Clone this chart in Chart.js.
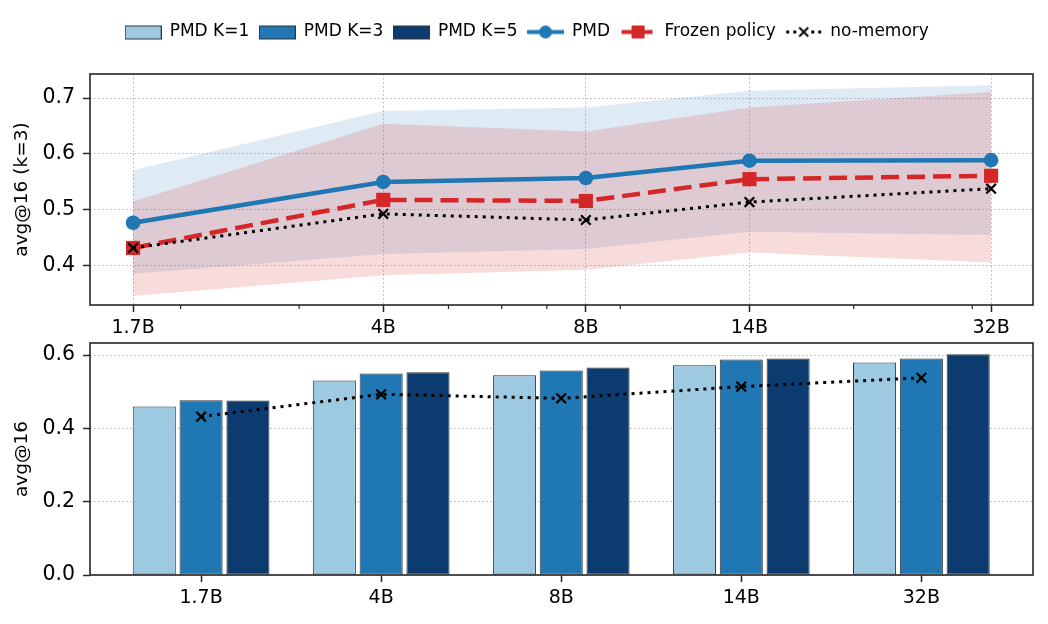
<!DOCTYPE html>
<html>
<head>
<meta charset="utf-8">
<script src="https://cdn.jsdelivr.net/npm/chart.js@4.4.0/dist/chart.umd.min.js"></script>
<style>
  body { margin: 0; background: #fff; }
  #wrap { position: relative; width: 1048px; height: 624px; }
  #top { position: absolute; left: 0; top: 0; }
  #bottom { position: absolute; left: 0; top: 338px; }
</style>
</head>
<body>
<div id="wrap">
  <canvas id="top" width="1048" height="338"></canvas>
  <canvas id="bottom" width="1048" height="286"></canvas>
</div>
<script>
// model sizes (billions) and their labels
const sizes = [1.7, 4, 8, 14, 32];
const sizeLabels = ['1.7B', '4B', '8B', '14B', '32B'];
const minorSizes = [2, 3, 5, 6, 7, 9, 20, 30];

// top panel: avg@16 (k=3)
const pmd = [0.477, 0.550, 0.557, 0.588, 0.589];
const pmdLow = [0.386, 0.421, 0.430, 0.461, 0.455];
const pmdHigh = [0.571, 0.677, 0.683, 0.713, 0.723];
const frozen = [0.432, 0.518, 0.516, 0.555, 0.561];
const frozenLow = [0.346, 0.383, 0.393, 0.424, 0.406];
const frozenHigh = [0.515, 0.654, 0.640, 0.683, 0.711];
const noMemory = [0.432, 0.493, 0.482, 0.514, 0.538];

// bottom panel: avg@16 per K
const pmdK1 = [0.460, 0.531, 0.545, 0.572, 0.580];
const pmdK3 = [0.477, 0.550, 0.558, 0.588, 0.591];
const pmdK5 = [0.476, 0.553, 0.566, 0.591, 0.602];

const topYTicks = [0.4, 0.5, 0.6, 0.7];
const bottomYTicks = [0, 0.2, 0.4, 0.6];

const BLUE = '#1f77b4', RED = '#d62728', INK = '#262626';
const K1 = '#9ecae1', K3 = '#1f77b4', K5 = '#0b3b6f';
const FONT = 'DejaVu Sans';

Chart.defaults.font.family = FONT;
Chart.defaults.color = '#000';
Chart.defaults.animation = false;

const logPts = arr => sizes.map((s, i) => ({ x: s, y: arr[i] }));
const idxPts = arr => arr.map((v, i) => ({ x: i, y: v }));

const gridStyle = { color: '#b5b5b5', lineWidth: 1, offset: false,
  tickColor: INK, tickWidth: 1.5, tickLength: 7, tickBorderDash: [] };
const borderStyle = { display: false, dash: [1.5, 2.5] };

// frame round the plot area, like matplotlib spines
const frame = {
  id: 'frame',
  afterDraw(chart) {
    const { ctx, chartArea: a } = chart;
    ctx.save();
    ctx.strokeStyle = INK;
    ctx.lineWidth = 1.6;
    ctx.strokeRect(a.left, a.top, a.right - a.left, a.bottom - a.top);
    ctx.restore();
  }
};

// small unlabelled ticks on the log axis
const minorTicks = {
  id: 'minorTicks',
  afterDraw(chart) {
    const x = chart.scales.x, ctx = chart.ctx, y0 = chart.chartArea.bottom;
    ctx.save();
    ctx.strokeStyle = INK;
    ctx.lineWidth = 1.2;
    minorSizes.forEach(v => {
      const px = x.getPixelForValue(v);
      ctx.beginPath();
      ctx.moveTo(px, y0);
      ctx.lineTo(px, y0 + 4);
      ctx.stroke();
    });
    ctx.restore();
  }
};

// legend spacing: move it right and leave room under it
const legendFit = {
  id: 'legendFit',
  beforeInit(chart) {
    const fit = chart.legend.fit;
    chart.legend.fit = function () {
      fit.bind(chart.legend)();
      this.height = 60.5;
    };
  },
  afterLayout(chart) {
    chart.legend.left += 10.5;
    chart.legend.right += 10.5;
  }
};

function icon(draw) {
  const c = document.createElement('canvas');
  c.width = 37; c.height = 17;
  draw(c.getContext('2d'));
  return c;
}
const boxIcon = col => icon(g => {
  g.fillStyle = col; g.fillRect(0.5, 2.5, 36, 13);
  g.strokeStyle = '#333'; g.lineWidth = 1; g.strokeRect(0.5, 2.5, 36, 13);
});
const legendItems = [
  { text: 'PMD K=1', pointStyle: boxIcon(K1) },
  { text: 'PMD K=3', pointStyle: boxIcon(K3) },
  { text: 'PMD K=5', pointStyle: boxIcon(K5) },
  { text: 'PMD', pointStyle: icon(g => {
      g.strokeStyle = BLUE; g.lineWidth = 4; g.beginPath(); g.moveTo(0, 8.5); g.lineTo(37, 8.5); g.stroke();
      g.fillStyle = BLUE; g.beginPath(); g.arc(18.5, 8.5, 6.5, 0, Math.PI * 2); g.fill();
    }) },
  { text: 'Frozen policy', pointStyle: icon(g => {
      g.strokeStyle = RED; g.lineWidth = 4; g.setLineDash([13, 5]); g.lineDashOffset = -2;
      g.beginPath(); g.moveTo(0, 8.5); g.lineTo(37, 8.5); g.stroke();
      g.fillStyle = RED; g.fillRect(12, 2, 13, 13);
    }) },
  { text: 'no-memory', pointStyle: icon(g => {
      g.fillStyle = '#000';
      [1, 8, 26, 33].forEach(x => g.fillRect(x, 7, 3, 3));
      g.strokeStyle = '#000'; g.lineWidth = 2; g.beginPath();
      g.moveTo(14, 4); g.lineTo(23, 13); g.moveTo(23, 4); g.lineTo(14, 13); g.stroke();
    }) }
].map(it => Object.assign({ fontColor: '#000', lineWidth: 0, strokeStyle: 'transparent',
  fillStyle: 'transparent', hidden: false }, it));

new Chart(document.getElementById('top'), {
  type: 'line',
  data: {
    datasets: [
      { label: 'no-memory', data: logPts(noMemory), borderColor: '#000', borderWidth: 3,
        borderDash: [3, 5], pointStyle: 'crossRot', pointRadius: 6.8, pointBorderWidth: 2.2,
        pointBorderColor: '#000', pointBackgroundColor: '#000', fill: false },
      { label: 'Frozen policy', data: logPts(frozen), borderColor: RED, borderWidth: 4.5,
        borderDash: [18, 8], pointStyle: 'rect', pointRadius: 10, pointBorderWidth: 0,
        pointBackgroundColor: RED, fill: false },
      { label: 'PMD', data: logPts(pmd), borderColor: BLUE, borderWidth: 4.5,
        pointStyle: 'circle', pointRadius: 7.3, pointBorderWidth: 0,
        pointBackgroundColor: BLUE, fill: false },
      { label: 'frozen low', data: logPts(frozenLow), borderColor: 'transparent', borderWidth: 0,
        pointRadius: 0, fill: false },
      { label: 'frozen high', data: logPts(frozenHigh), borderColor: 'transparent', borderWidth: 0,
        pointRadius: 0, fill: '-1', backgroundColor: 'rgba(214,39,40,0.17)' },
      { label: 'pmd low', data: logPts(pmdLow), borderColor: 'transparent', borderWidth: 0,
        pointRadius: 0, fill: false },
      { label: 'pmd high', data: logPts(pmdHigh), borderColor: 'transparent', borderWidth: 0,
        pointRadius: 0, fill: '-1', backgroundColor: 'rgba(31,119,180,0.15)' }
    ]
  },
  options: {
    responsive: false,
    events: [],
    layout: { autoPadding: false, padding: { top: 13.5, right: 15, left: 0, bottom: 0 } },
    elements: { line: { tension: 0 } },
    plugins: {
      tooltip: { enabled: false },
      legend: {
        display: true,
        position: 'top',
        labels: {
          usePointStyle: true, pointStyleWidth: 36, padding: 10,
          font: { family: FONT, size: 17 }, color: '#000',
          generateLabels: () => legendItems
        }
      }
    },
    scales: {
      x: {
        type: 'logarithmic', min: 1.467, max: 36.93,
        afterBuildTicks: s => { s.ticks = sizes.map(v => ({ value: v })); },
        afterFit: s => { s.height = 33; s.paddingLeft = 0; s.paddingRight = 0; },
        ticks: { callback: (v, i) => sizeLabels[i], maxRotation: 0, autoSkip: false,
          padding: 5, font: { size: 19 }, color: '#000' },
        grid: gridStyle,
        border: borderStyle
      },
      y: {
        min: 0.330, max: 0.743,
        afterBuildTicks: s => { s.ticks = topYTicks.map(v => ({ value: v })); },
        afterFit: s => { s.width = 90; s.paddingTop = 0; s.paddingBottom = 0; },
        ticks: { callback: v => v.toFixed(1), padding: 8, font: { size: 20.5 }, color: '#000' },
        grid: gridStyle,
        border: borderStyle,
        title: { display: true, text: 'avg@16 (k=3)', font: { size: 18.5 }, color: '#000',
          padding: { top: 11, bottom: 0 } }
      }
    }
  },
  plugins: [frame, minorTicks, legendFit]
});

new Chart(document.getElementById('bottom'), {
  type: 'bar',
  data: {
    datasets: [
      { type: 'line', label: 'no-memory', data: idxPts(noMemory), borderColor: '#000', borderWidth: 3,
        borderDash: [3, 5], pointStyle: 'crossRot', pointRadius: 6.8, pointBorderWidth: 2.2,
        pointBorderColor: '#000', pointBackgroundColor: '#000', fill: false, tension: 0 },
      { label: 'PMD K=1', data: idxPts(pmdK1), backgroundColor: K1, borderColor: '#333',
        borderWidth: 1, borderSkipped: false },
      { label: 'PMD K=3', data: idxPts(pmdK3), backgroundColor: K3, borderColor: '#333',
        borderWidth: 1, borderSkipped: false },
      { label: 'PMD K=5', data: idxPts(pmdK5), backgroundColor: K5, borderColor: '#333',
        borderWidth: 1, borderSkipped: false }
    ]
  },
  options: {
    responsive: false,
    events: [],
    layout: { autoPadding: false, padding: { top: 5, right: 15, left: 0, bottom: 0 } },
    datasets: { bar: { categoryPercentage: 0.78, barPercentage: 0.92 } },
    plugins: { legend: { display: false }, tooltip: { enabled: false } },
    scales: {
      x: {
        type: 'linear', min: -0.617, max: 4.62, offset: false,
        afterBuildTicks: s => { s.ticks = sizeLabels.map((_, i) => ({ value: i })); },
        afterFit: s => { s.height = 49; s.paddingLeft = 0; s.paddingRight = 0; },
        ticks: { callback: (v, i) => sizeLabels[i], maxRotation: 0, autoSkip: false,
          padding: 5, font: { size: 19 }, color: '#000' },
        grid: Object.assign({}, gridStyle, { drawOnChartArea: false }),
        border: borderStyle
      },
      y: {
        min: 0, max: 0.633,
        afterBuildTicks: s => { s.ticks = bottomYTicks.map(v => ({ value: v })); },
        afterFit: s => { s.width = 90; s.paddingTop = 0; s.paddingBottom = 0; },
        ticks: { callback: v => v.toFixed(1), padding: 8, font: { size: 20.5 }, color: '#000' },
        grid: gridStyle,
        border: borderStyle,
        title: { display: true, text: 'avg@16', font: { size: 18.5 }, color: '#000',
          padding: { top: 11, bottom: 0 } }
      }
    }
  },
  plugins: [frame]
});
</script>
</body>
</html>
